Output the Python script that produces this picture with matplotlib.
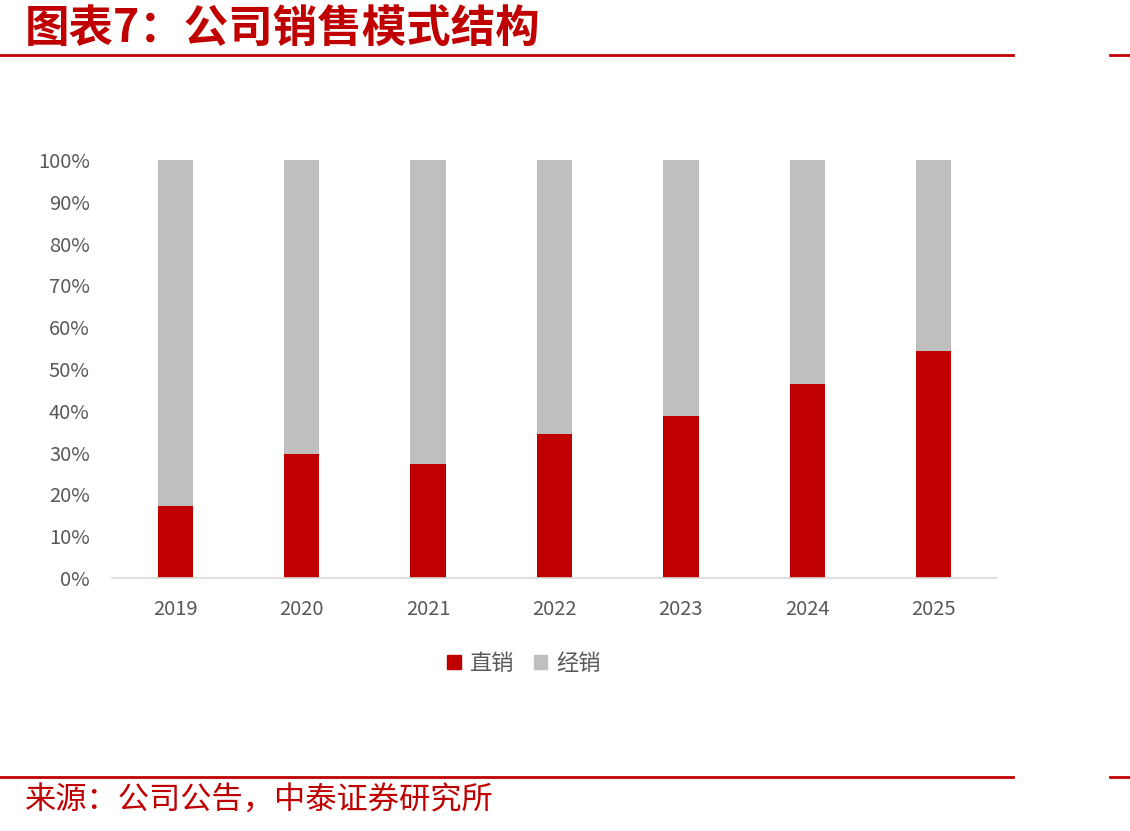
import matplotlib
matplotlib.use("Agg")
import matplotlib.pyplot as plt
from matplotlib.lines import Line2D
from matplotlib.patches import Patch

plt.rcParams['font.family'] = ['Noto Sans CJK SC', 'DejaVu Sans']

years = ['2019', '2020', '2021', '2022', '2023', '2024', '2025']
direct = [17.2, 29.7, 27.3, 34.4, 38.8, 46.4, 54.3]
distrib = [100 - d for d in direct]
series_names = ['直销', '经销']
yticks = [0, 10, 20, 30, 40, 50, 60, 70, 80, 90, 100]

W, H = 1130, 831
fig = plt.figure(figsize=(W / 100, H / 100), dpi=100)

red = '#C00000'
gray = '#BFBFBF'
txt = '#595959'

# header / footer lines
for y in (55, 777):
    fig.add_artist(Line2D([0, 1013 / W], [1 - y / H] * 2, color='#C00000', lw=2))
    fig.add_artist(Line2D([1110 / W, 1], [1 - y / H] * 2, color='#C00000', lw=2))

fig.text(25 / W, 1 - 29 / H, '图表7：公司销售模式结构', color='#C00000', fontsize=32,
         fontweight='bold', style='italic', va='center', ha='left')
fig.text(25 / W, 1 - 801 / H, '来源：公司公告，中泰证券研究所', color='#C00000', fontsize=22.5,
         va='center', ha='left')

ax = fig.add_axes([112 / W, 1 - 578 / H, (997 - 112) / W, (578 - 160) / H])
x = range(len(years))
ax.bar(x, direct, width=0.28, color=red, label=series_names[0], zorder=2)
ax.bar(x, distrib, width=0.28, bottom=direct, color=gray, label=series_names[1], zorder=2)

ax.set_xlim(-0.5, len(years) - 0.5)
ax.set_ylim(0, 100)
ax.set_yticks(yticks)
ax.set_yticklabels([f'{v}%' for v in yticks])
ax.set_xticks(list(x))
ax.set_xticklabels(years)
for s in ['top', 'right', 'left']:
    ax.spines[s].set_visible(False)
ax.spines['bottom'].set_color('#D9D9D9')
ax.spines['bottom'].set_linewidth(1.2)
ax.tick_params(axis='both', length=0, colors=txt, labelsize=14.5)
ax.tick_params(axis='y', pad=16)
ax.tick_params(axis='x', pad=15)

handles = [Patch(color=red), Patch(color=gray)]
fig.legend(handles, series_names, loc='center', bbox_to_anchor=(524 / W, 1 - 663 / H),
           ncol=2, frameon=False, fontsize=16, handlelength=0.6, handleheight=0.6,
           handletextpad=0.4, columnspacing=0.9, labelcolor=txt)

fig.savefig('out.png', dpi=100)
